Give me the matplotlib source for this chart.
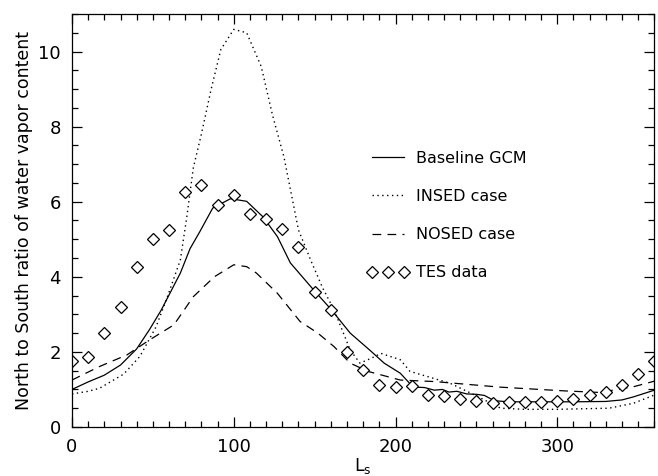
import numpy as np
import matplotlib
matplotlib.use("Agg")
import matplotlib.pyplot as plt
from matplotlib.ticker import MultipleLocator

# TES observations (every 10 deg of Ls)
tes_ls = np.arange(0, 361, 10)
tes_ratio = [1.76, 1.87, 2.5, 3.2, 4.26, 5.0, 5.25, 6.26, 6.45, 5.9,
             6.19, 5.67, 5.55, 5.28, 4.79, 3.6, 3.12, 2.0, 1.52, 1.12,
             1.07, 1.09, 0.85, 0.83, 0.74, 0.69, 0.63, 0.66, 0.67, 0.67,
             0.7, 0.74, 0.84, 0.92, 1.12, 1.41, 1.76]

# Baseline GCM
base_ls = [0, 10, 20, 30, 40, 48, 55, 61, 67, 73, 79, 87, 98, 108, 118,
           127, 135, 150, 160, 172, 184, 193, 203, 209, 213, 218, 224, 229,
           233, 238, 244, 250, 255, 261, 270, 290, 310, 330, 340, 347, 360]
base_ratio = [1.0, 1.2, 1.38, 1.65, 2.08, 2.6, 3.1, 3.6, 4.1, 4.75, 5.2,
              5.83, 6.08, 6.01, 5.6, 5.07, 4.37, 3.62, 3.14, 2.5, 2.05, 1.7,
              1.43, 1.15, 1.06, 1.05, 0.98, 1.0, 0.93, 0.95, 0.88, 0.87,
              0.84, 0.7, 0.67, 0.67, 0.67, 0.68, 0.72, 0.8, 0.98]

# INSED case
insed_ls = [0, 10, 17, 32, 42, 52, 59, 67, 71, 75, 80, 86, 92, 100, 108,
            117, 124, 131, 140, 148, 155, 162, 172, 178, 185, 191, 203, 209,
            220, 234, 249, 265, 280, 300, 332, 347, 360]
insed_ratio = [0.88, 0.95, 1.03, 1.41, 1.88, 2.67, 3.47, 4.45, 5.6, 6.9,
               7.8, 8.99, 10.05, 10.59, 10.5, 9.6, 8.3, 7.2, 5.25, 4.4, 3.7,
               3.12, 2.05, 1.7, 1.83, 1.96, 1.79, 1.48, 1.34, 1.16, 0.85,
               0.5, 0.47, 0.47, 0.5, 0.63, 0.85]

# NOSED case
nosed_ls = [0, 17, 34, 48, 63, 75, 88, 100, 108, 114, 127, 141, 152, 162,
            172, 183, 203, 224, 265, 305, 326, 347, 360]
nosed_ratio = [1.25, 1.61, 1.92, 2.32, 2.72, 3.47, 4.0, 4.32, 4.27, 4.1,
               3.56, 2.81, 2.5, 2.14, 1.7, 1.48, 1.25, 1.21, 1.06, 0.96,
               0.92, 1.07, 1.22]

plt.rcParams['font.family'] = ['DejaVu Sans']

fig = plt.figure(figsize=(6.58, 4.76), dpi=100)
ax = fig.add_axes([0.1094, 0.103, 0.885, 0.8676])

ax.plot(base_ls, base_ratio, color='black', lw=0.9, label='Baseline GCM')
ax.plot(insed_ls, insed_ratio, color='black', lw=1.0,
        linestyle=(0, (1, 2.5)), label='INSED case')
ax.plot(nosed_ls, nosed_ratio, color='black', lw=0.9,
        linestyle=(0, (7, 5)), label='NOSED case')
ax.plot(tes_ls, tes_ratio, linestyle='none', marker='D', markersize=6.5,
        markerfacecolor='white', markeredgecolor='black',
        markeredgewidth=0.9, label='TES data')

ax.set_xlim(0, 360)
ax.set_ylim(0, 11)
ax.xaxis.set_major_locator(MultipleLocator(100))
ax.xaxis.set_minor_locator(MultipleLocator(10))
ax.yaxis.set_major_locator(MultipleLocator(2))
ax.yaxis.set_minor_locator(MultipleLocator(0.5))
ax.tick_params(which='both', direction='in', top=True, right=True,
               width=0.9, labelsize=13)
ax.tick_params(which='major', length=7, pad=8)
ax.tick_params(which='minor', length=4)
for s in ax.spines.values():
    s.set_linewidth(0.9)

ax.set_xlabel(r'L$_{\rm s}$', fontsize=12.5, labelpad=0)
ax.set_ylabel('North to South ratio of water vapor content', fontsize=12.5)

ax.legend(loc='upper left', bbox_to_anchor=(0.493, 0.688), frameon=False,
          fontsize=11.5, handlelength=2.6, handletextpad=0.45,
          labelspacing=1.45, numpoints=3, borderpad=0)

fig.savefig('out.png', dpi=100)
